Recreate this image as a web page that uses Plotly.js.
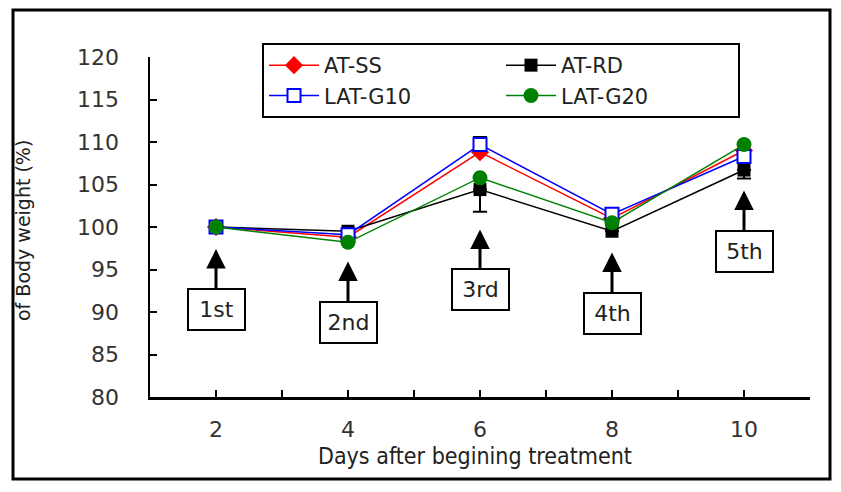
<!DOCTYPE html>
<html>
<head>
<meta charset="utf-8">
<script src="https://cdn.plot.ly/plotly-3.0.1.min.js"></script>
<style>html,body{margin:0;padding:0;background:#fff;}#chart{width:841px;height:492px;}</style>
</head>
<body>
<div id="chart"></div>
<script>
// ---- data ----
const days = [2, 4, 6, 8, 10];
const atSS = [100, 98.8, 108.8, 101.0, 109.0];
const atRD = [100, 99.5, 104.4, 99.5, 106.7];
const latG10 = [100, 99.1, 109.7, 101.5, 108.3];
const latG20 = [100, 98.2, 105.8, 100.5, 109.7];
const atRDErrMinus = [0, 0, 2.6, 0, 1.0];
const latG10ErrPlus = [0, 0, 0.9, 0, 0];
const xTickVals = [1, 2, 3, 4, 5, 6, 7, 8, 9, 10, 11];
const xTickText = ["", "2", "", "4", "", "6", "", "8", "", "10", ""];
const yTickVals = [80, 85, 90, 95, 100, 105, 110, 115, 120];
// treatment markers: label, day, arrow tip value, box centre value
const doseLabels = ["1st", "2nd", "3rd", "4th", "5th"];
const doseDays = [2, 4, 6, 8, 10];
const doseTip = [97.4, 95.95, 99.7, 97.0, 104.3];
const doseBox = [90.3, 88.8, 92.6, 89.85, 97.1];

const FONT = "DejaVu Sans, Liberation Sans, Arial, sans-serif";

const traces = [
  {x: days, y: atSS, name: "AT-SS", mode: "lines+markers",
   line: {color: "#ff0000", width: 1.5},
   marker: {symbol: "diamond", size: 14, color: "#ff0000"}},
  {x: days, y: atRD, name: "AT-RD", mode: "lines+markers",
   line: {color: "#000000", width: 1.5},
   marker: {symbol: "square", size: 13, color: "#000000"},
   error_y: {type: "data", symmetric: false, array: days.map(() => 0), arrayminus: atRDErrMinus,
             color: "#000", thickness: 2, width: 7}},
  {x: days, y: latG10, name: "LAT-G10", mode: "lines+markers",
   line: {color: "#0000ff", width: 1.5},
   marker: {symbol: "square", size: 13, color: "#ffffff", line: {color: "#0000ff", width: 2}},
   error_y: {type: "data", symmetric: false, array: latG10ErrPlus, arrayminus: days.map(() => 0),
             color: "#000", thickness: 2, width: 7}},
  {x: days, y: latG20, name: "LAT-G20", mode: "lines+markers",
   line: {color: "#008000", width: 1.5},
   marker: {symbol: "circle", size: 15, color: "#008000"}}
];

const annotations = doseLabels.map((t, i) => ({
  x: doseDays[i], y: doseTip[i], xref: "x", yref: "y",
  ax: doseDays[i], ay: doseBox[i], axref: "x", ayref: "y",
  text: t, showarrow: true, arrowhead: 2, arrowsize: 1.3, arrowwidth: 3, arrowcolor: "#000",
  standoff: 0, startstandoff: 0,
  font: {family: FONT, size: 22, color: "#222"},
  bordercolor: "#000", borderwidth: 2, bgcolor: "#fff",
  width: 53, height: 37
}));
annotations.push({
  xref: "paper", yref: "paper", x: (475 - 150) / 660, y: (397 - 456) / 340,
  text: "Days after begining treatment", showarrow: false,
  font: {family: "Liberation Sans Narrow, DejaVu Sans Condensed, Liberation Sans, sans-serif", size: 23, color: "#222"},
  xanchor: "center", yanchor: "middle"
});
annotations.push({
  xref: "paper", yref: "paper", x: (23 - 150) / 660, y: (397 - 231) / 340,
  text: "of Body weight (%)", showarrow: false, textangle: -90,
  font: {family: FONT, size: 19, color: "#222"},
  xanchor: "center", yanchor: "middle"
});

const layout = {
  width: 841, height: 492,
  margin: {l: 150, r: 31, t: 57, b: 95},
  paper_bgcolor: "#fff", plot_bgcolor: "#fff",
  showlegend: true,
  legend: {
    orientation: "h", x: (262 - 150) / 660, y: (397 - 43) / 340, xanchor: "left", yanchor: "top",
    bordercolor: "#000", borderwidth: 2, bgcolor: "#fff",
    font: {family: FONT, size: 21, color: "#222"},
    entrywidth: 172, entrywidthmode: "pixels", itemwidth: 50, tracegroupgap: 0
  },
  xaxis: {
    range: [1, 11], tickvals: xTickVals, ticktext: xTickText,
    ticks: "inside", ticklen: 7, tickwidth: 2, tickcolor: "#000",
    showline: true, linecolor: "#000", linewidth: 2.5, showgrid: false, zeroline: false,
    tickfont: {family: FONT, size: 22, color: "#333"}, ticklabelstandoff: 11,
    fixedrange: true
  },
  yaxis: {
    range: [80, 120], tickvals: yTickVals,
    ticks: "inside", ticklen: 7, tickwidth: 2, tickcolor: "#000",
    showline: true, linecolor: "#000", linewidth: 2.5, showgrid: false, zeroline: false,
    tickfont: {family: FONT, size: 22, color: "#333"}, ticklabelstandoff: 24,
    fixedrange: true
  },
  shapes: [{
    type: "rect", xref: "paper", yref: "paper",
    x0: (13 - 150) / 660, x1: (830 - 150) / 660,
    y0: (397 - 479) / 340, y1: (397 - 10) / 340,
    line: {color: "#000", width: 3}, fillcolor: "rgba(0,0,0,0)", layer: "below"
  }],
  annotations: annotations
};

Plotly.newPlot("chart", traces, layout, {staticPlot: true, displayModeBar: false});
</script>
</body>
</html>
